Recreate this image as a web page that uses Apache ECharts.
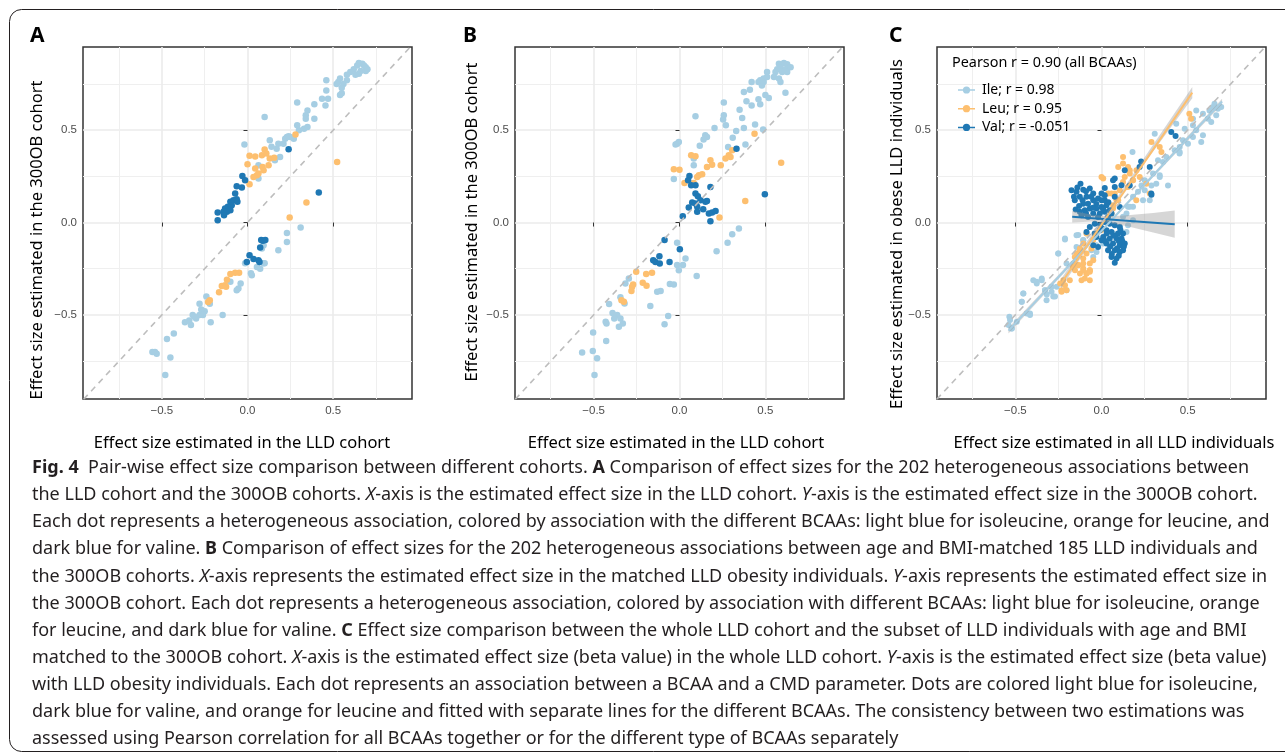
<!DOCTYPE html>
<html>
<head>
<meta charset="utf-8">
<title>Fig. 4 effect size comparison</title>
<script src="https://cdn.jsdelivr.net/npm/echarts@6.0.0/dist/echarts.min.js"></script>
<style>
  html, body { margin: 0; padding: 0; background: #fff; }
  #chart { width: 1285px; height: 753px; }
</style>
</head>
<body>
<div id="chart"></div>
<script>
// ---- axis ticks ----
const majorTicks = [-0.5, 0, 0.5];
const minorTicks = [-0.75, -0.25, 0.25, 0.75];
const identity = [[-1, -1], [1, 1]];

// ---- panel A: LLD cohort vs 300OB cohort ----
const aIle = [[0.67,0.86],[0.64,0.85],[0.69,0.84],[0.62,0.83],[0.66,0.82],[0.60,0.815],[0.69,0.82],[0.65,0.805],[0.63,0.80],[0.58,0.80],[0.68,0.85],[0.65,0.863],[0.70,0.83],[0.54,0.78],[0.53,0.76],[0.52,0.75],[0.56,0.75],[0.55,0.73],[0.58,0.77],[0.46,0.77],[0.54,0.69],[0.55,0.70],[0.46,0.715],[0.47,0.67],[0.435,0.67],[0.455,0.634],[0.39,0.64],[0.29,0.65],[0.35,0.607],[0.34,0.58],[0.34,0.562],[0.39,0.562],[0.29,0.526],[0.30,0.50],[0.33,0.508],[0.35,0.517],[0.10,0.571],[0.23,0.463],[0.22,0.454],[0.25,0.463],[0.27,0.454],[0.24,0.467],[0.21,0.427],[0.18,0.427],[0.13,0.445],[0.14,0.41],[0.17,0.40],[0.19,0.355],[0.16,0.337],[0.064,0.31],[0.064,0.238],[-0.018,0.423],
  [0.31,-0.027],[0.23,-0.056],[0.23,-0.105],[0.18,-0.15],[0.094,-0.123],[0.084,-0.14],[0.094,-0.22],[0.074,-0.25],[0.025,-0.285],[-0.04,-0.33],[-0.053,-0.357],[-0.063,-0.366],[-0.10,-0.32],[-0.24,-0.40],[-0.22,-0.44],[-0.28,-0.44],[-0.25,-0.48],[-0.28,-0.50],[-0.32,-0.50],[-0.30,-0.52],[-0.34,-0.53],[-0.33,-0.555],[-0.365,-0.54],[-0.215,-0.54],[-0.145,-0.50],[-0.43,-0.60],[-0.47,-0.63],[-0.45,-0.73],[-0.54,-0.70],[-0.53,-0.71],[-0.555,-0.70],[-0.48,-0.825],[-0.014,-0.22],[0.055,-0.24],[0.10,-0.22],[0.02,-0.275],[-0.27,-0.47],[-0.31,-0.51],[-0.26,-0.50]];
const aLeu = [[0.28,0.477],[0.10,0.395],[0.012,0.362],[0.045,0.358],[0.084,0.364],[0.11,0.373],[0.13,0.346],[0.156,0.351],[0,0.315],[0.045,0.292],[0.088,0.30],[0.094,0.283],[0.123,0.31],[0.055,0.256],[0.035,0.247],[0.064,0.265],[0.012,0.207],[0.523,0.328],[0.344,0.108],[0.246,0.027],
  [-0.049,-0.272],[-0.072,-0.272],[-0.10,-0.279],[-0.12,-0.31],[-0.131,-0.339],[-0.15,-0.344],[-0.125,-0.348],[-0.166,-0.377],[-0.22,-0.42],[-0.23,-0.43]];
const aVal = [[0.24,0.396],[-0.03,0.252],[-0.014,0.229],[-0.063,0.196],[-0.033,0.19],[-0.072,0.157],[-0.063,0.126],[-0.082,0.12],[-0.059,0.112],[-0.10,0.112],[-0.092,0.094],[-0.115,0.085],[-0.131,0.076],[-0.10,0.067],[-0.14,0.058],[-0.12,0.058],[-0.174,0.054],[-0.137,0.04],[-0.174,0.013],[0.416,0.162],
  [0.08,-0.095],[0.104,-0.095],[0.09,-0.099],[0.074,-0.135],[0.012,-0.177],[0.035,-0.198],[-0.004,-0.213],[0.064,-0.204],[0.07,-0.213]];

// ---- panel B: matched LLD vs 300OB ----
const bIle = [[0.579,0.86],[0.608,0.863],[0.627,0.856],[0.588,0.84],[0.617,0.83],[0.647,0.84],[0.569,0.83],[0.559,0.815],[0.598,0.815],[0.627,0.815],[0.55,0.787],[0.579,0.78],[0.588,0.76],[0.51,0.815],[0.49,0.78],[0.47,0.77],[0.46,0.76],[0.48,0.742],[0.49,0.76],[0.51,0.787],[0.42,0.76],[0.617,0.703],[0.50,0.69],[0.52,0.674],[0.375,0.706],[0.41,0.719],[0.39,0.656],[0.42,0.634],[0.46,0.667],[0.47,0.64],[0.258,0.649],[0.35,0.611],[0.258,0.58],[0.254,0.557],[0.365,0.566],[0.27,0.526],[0.44,0.53],[0.204,0.512],[0.31,0.459],[0.33,0.495],[0.375,0.512],[0.487,0.503],[0.384,0.423],[0.283,0.409],[0.15,0.472],[0.16,0.463],[0.14,0.449],[0.118,0.416],[-0.014,0.427],[-0.004,0.436],[-0.023,0.423],[0.083,0.31],[-0.033,0.236],[0.093,0.575],[0.083,0.346],
  [0.346,-0.032],[0.307,-0.063],[0.28,-0.11],[0.216,-0.155],[-0.014,-0.11],[0.035,-0.195],[-0.014,-0.23],[-0.004,-0.258],[0.02,-0.23],[0.10,-0.29],[-0.056,-0.333],[-0.033,-0.335],[-0.11,-0.371],[-0.13,-0.375],[-0.17,-0.452],[-0.295,-0.303],[-0.315,-0.33],[-0.344,-0.405],[-0.32,-0.438],[-0.41,-0.441],[-0.39,-0.49],[-0.43,-0.537],[-0.363,-0.50],[-0.344,-0.519],[-0.38,-0.519],[-0.425,-0.546],[-0.33,-0.546],[-0.353,-0.564],[-0.066,-0.506],[-0.087,-0.55],[-0.503,-0.595],[-0.427,-0.641],[-0.567,-0.703],[-0.505,-0.695],[-0.48,-0.735],[-0.495,-0.825]];
const bLeu = [[0.437,0.481],[0.307,0.391],[0.287,0.364],[0.268,0.346],[0.297,0.355],[0.068,0.364],[0.093,0.359],[0.18,0.337],[0.19,0.313],[0.16,0.30],[0.24,0.31],[-0.033,0.288],[0,0.286],[0.113,0.256],[0.132,0.261],[0.103,0.247],[0.029,0.214],[0.083,0.214],[0.592,0.323],[0.383,0.117],[0.233,0.027],
  [-0.252,-0.267],[-0.27,-0.335],[-0.276,-0.348],[-0.28,-0.371],[-0.194,-0.279],[-0.16,-0.272],[-0.214,-0.326],[-0.192,-0.342],[-0.338,-0.42],[-0.324,-0.429]];
const bVal = [[0.332,0.40],[0.058,0.252],[0.05,0.229],[0.093,0.202],[0.068,0.202],[0.18,0.193],[0.093,0.157],[0.107,0.142],[0.122,0.12],[0.074,0.108],[0.093,0.103],[0.054,0.081],[0.103,0.085],[0.151,0.112],[0.16,0.117],[0.138,0.072],[0.103,0.058],[0.171,0.049],[0.19,0.054],[0.21,0.063],[0.18,0.007],[0.019,0.034],[0.497,0.153],
  [-0.087,-0.095],[0.002,-0.144],[-0.117,-0.182],[-0.153,-0.204],[-0.14,-0.213],[-0.115,-0.222],[-0.058,-0.213]];

// ---- panel C: all LLD vs obese LLD ----
const cIle = [[-0.535,-0.51],[-0.54,-0.555],[-0.521,-0.573],[-0.492,-0.537],[-0.454,-0.384],[-0.463,-0.429],[-0.434,-0.492],[-0.415,-0.50],[-0.396,-0.312],[-0.376,-0.33],[-0.347,-0.303],[-0.328,-0.366],[-0.319,-0.42],[-0.28,-0.40],[-0.29,-0.348],[-0.251,-0.168],[-0.232,-0.33],[-0.212,-0.092],[-0.203,-0.366],[-0.164,-0.222],[-0.135,-0.068],[-0.106,-0.095],[-0.048,-0.186],[-0.029,-0.159],[-0.145,-0.132],
  [-0.145,-0.069],[-0.251,-0.168],[-0.203,-0.222],[-0.376,-0.321],[-0.347,-0.312],[-0.328,-0.366],[-0.29,-0.375],[-0.26,-0.348],[-0.454,-0.384],[-0.463,-0.429],[-0.415,-0.492],[-0.531,-0.528],[-0.521,-0.573],[-0.27,-0.40],[-0.318,-0.39],[-0.212,-0.087],[-0.106,-0.096],
  [0.125,0.031],[0.145,0.049],[0.164,0.085],[0.18,0.382],[0.183,0.139],[0.212,0.166],[0.232,0.20],[0.251,0.229],[0.299,0.265],[0.338,0.256],[0.309,0.481],[0.328,0.337],[0.376,0.355],[0.425,0.391],[0.454,0.409],[0.473,0.445],[0.502,0.427],[0.434,0.535],[0.531,0.463],[0.579,0.436],[0.589,0.472],[0.55,0.499],[0.531,0.526],[0.55,0.607],[0.589,0.589],[0.627,0.607],[0.647,0.625],[0.676,0.616],[0.695,0.625],[0.666,0.58],[0.637,0.544],[0.656,0.643],[0.618,0.562],[0.531,0.562],[0.483,0.508],[0.454,0.382],[0.357,0.328],[0.386,0.20],[0.28,0.12],[0.29,0.20],[0.251,0.175],[0.183,0.085],[0.154,0.085],[0.106,-0.023],[0.068,-0.06],[0.039,-0.095],[-0.029,-0.123],[0.01,-0.114],[-0.058,-0.15],[-0.087,-0.06],[0.183,0.013],[0.241,0.12],[0.154,-0.015],[0.145,-0.051],[0.318,0.21],[0.338,0.247],[0.453,0.373]];
const cLeu = [[-0.24,-0.33],[-0.222,-0.312],[-0.232,-0.375],[-0.203,-0.366],[-0.164,-0.24],[-0.154,-0.258],[-0.135,-0.23],[-0.125,-0.276],[-0.106,-0.249],[-0.087,-0.276],[-0.068,-0.258],[-0.116,-0.312],[-0.097,-0.303],[-0.068,-0.312],[-0.145,-0.168],[-0.125,-0.14],[-0.087,-0.168],[-0.106,-0.195],[-0.048,-0.095],[-0.029,-0.06],[0,-0.04],[0.029,0.013],[0.058,0.049],[0.068,0.094],[0.097,0.12],[0.039,0.157],[0.01,0.238],[0.106,0.175],[0.125,0.22],[0.135,0.247],[0.164,0.265],[0.183,0.229],[0.203,0.283],[0.154,0.30],[0.097,0.30],[0.222,0.247],[0.26,0.21],[0.28,0.157],[0.29,0.436],[0.338,0.409],[0.348,0.382],[0.51,0.589],[0.52,0.562],[0.125,0.355],[0.077,0.157],
  [0.125,0.319],[0.164,0.283],[0.183,0.229],[0.154,0.193],[0.202,0.12],[0.087,0.12],[0,0.247],[0.058,0.157],[0.067,0.076],
  [-0.126,-0.15],[-0.145,-0.186],[-0.106,-0.222],[-0.068,-0.258],[-0.164,-0.24],[-0.087,-0.276],[-0.048,-0.204],
  [-0.155,-0.186],[-0.135,-0.231],[-0.106,-0.258],[-0.068,-0.267],[-0.184,-0.312],[-0.212,-0.339],[-0.232,-0.366],[-0.068,-0.222],[-0.087,-0.06],[-0.106,-0.114],[-0.058,-0.14]];
const cVal = [[-0.122,0.21],[-0.174,0.175],[-0.145,0.166],[-0.106,0.178],[-0.068,0.184],[-0.048,0.157],[-0.087,0.139],[-0.126,0.139],[-0.155,0.12],[-0.106,0.102],[-0.078,0.102],[-0.048,0.12],[-0.02,0.13],[0,0.12],[0.019,0.12],[0.029,0.093],[0,0.084],[-0.029,0.076],[-0.068,0.076],[-0.097,0.067],[-0.126,0.058],[-0.048,0.049],[-0.01,0.049],[0.019,0.058],[0.048,0.067],[0.058,0.049],[0.038,0.03],[-0.02,0.03],[-0.078,0.03],[-0.116,0.04],[0.077,0.193],[0.116,0.202],[0.077,0.139],[0.106,0.084],[0.019,0.148],[0,0.157],
  [-0.16,0.14],[-0.14,0.19],[-0.09,0.17],[-0.06,0.14],[-0.03,0.10],[-0.13,0.09],[-0.09,0.05],[-0.05,0.08],[0.04,0.11],[-0.15,0.07],[-0.11,0.12],[0.01,0.07],
  [-0.068,-0.024],[-0.087,-0.051],[-0.039,-0.006],[-0.01,-0.015],[0.019,0.003],[0.048,-0.006],[0.077,-0.015],[0.106,-0.024],[-0.01,-0.042],[0.029,-0.042],[0.058,-0.051],[0.096,-0.06],[0.125,-0.06],[-0.029,-0.078],[0.01,-0.078],[0.048,-0.087],[0.087,-0.087],[0.116,-0.087],[0.029,-0.114],[0.067,-0.114],[0.106,-0.123],[0.135,-0.114],[0.038,-0.15],[0.077,-0.15],[0.106,-0.159],[0.058,-0.186],[0.087,-0.195],[0.077,-0.218],[-0.048,-0.123],[-0.02,-0.132],[0,-0.096],[0.125,-0.15],
  [0.0,-0.03],[0.03,-0.06],[0.07,-0.07],[0.1,-0.1],[0.05,-0.13],[0.09,-0.14],[0.12,-0.1],[0.13,-0.13],[0.06,-0.17],[0.1,-0.18],[-0.04,-0.06],[0.02,-0.1],[0.11,-0.04],
  [0.135,0.283],[0.221,0.301],[0.289,0.157],[0.077,0.238],[0.405,0.49],[0.43,0.468],[0.23,0.33],[0.28,0.30],[0.067,0.229],[0.019,0.187],[0.164,0.20],[0.29,0.15]];

// fitted lines and their confidence bands in panel C: [x, y] and [x, lower, upper]
const fitIle = [[-0.54, -0.585], [0.70, 0.655]];
const fitLeu = [[-0.235, -0.33], [0.527, 0.703]];
const fitVal = [[-0.17, 0.031], [0.425, -0.009]];
const bandIle = [[-0.54, -0.60, -0.57], [0.08, 0.028, 0.042], [0.70, 0.64, 0.67]];
const bandLeu = [[-0.235, -0.355, -0.305], [0.15, 0.195, 0.215], [0.527, 0.673, 0.733]];
const bandVal = [[-0.17, 0.0, 0.064], [-0.05, 0.005, 0.041], [0.05, -0.002, 0.034], [0.15, -0.02, 0.04], [0.3, -0.054, 0.052], [0.425, -0.083, 0.065]];

const legendNames = ['Ile; r = 0.98', 'Leu; r = 0.95', 'Val; r = -0.051'];
const colors = ['#A6CEE3', '#FDBF6F', '#1F78B4'];

// ---- layout ----
const FONT = 'Noto Sans';
const panels = [
  { left: 83, xMin: -0.96, xMax: 0.96 },
  { left: 515, xMin: -0.958, xMax: 0.958 },
  { left: 937, xMin: -0.955, xMax: 0.955 },
];
const gridTop = 47, gridW = 329, gridH = 352;

function fmt(v) {
  if (v === 0) return '0.0';
  return (v < 0 ? '\u2212' : '') + Math.abs(v).toFixed(1);
}

const grids = [], xAxes = [], yAxes = [];
panels.forEach((p, i) => {
  grids.push({
    left: p.left, top: gridTop, width: gridW, height: gridH,
    show: true, borderColor: '#333', borderWidth: 1.5, backgroundColor: '#fff',
    outerBoundsMode: 'none', containLabel: false,
  });
  const base = {
    type: 'value', gridIndex: i, axisLine: { show: false },
  };
  // major axis (labels, ticks, major grid)
  xAxes.push(Object.assign({}, base, {
    min: p.xMin, max: p.xMax, position: 'bottom',
    axisTick: { show: true, length: 4, lineStyle: { color: '#333', width: 1 }, customValues: majorTicks },
    axisLabel: { customValues: majorTicks, formatter: fmt, margin: 6, color: '#4D4D4D', fontSize: 11.5, fontFamily: 'Liberation Sans' },
    splitLine: { show: true, lineStyle: { color: '#EBEBEB', width: 1.6 } },
  }));
  yAxes.push(Object.assign({}, base, {
    min: -0.955, max: 0.95, position: 'left',
    axisTick: { show: true, length: 4, lineStyle: { color: '#333', width: 1 }, customValues: majorTicks },
    axisLabel: { customValues: majorTicks, formatter: fmt, margin: 6, color: '#4D4D4D', fontSize: 11.5, fontFamily: 'Liberation Sans' },
    splitLine: { show: true, lineStyle: { color: '#EBEBEB', width: 1.6 } },
  }));
});
// minor grid axes
panels.forEach((p, i) => {
  const minor = {
    type: 'value', gridIndex: i, axisLine: { show: false },
    axisTick: { show: false, customValues: minorTicks },
    axisLabel: { show: false },
    splitLine: { show: true, lineStyle: { color: '#EFEFEF', width: 1 } },
  };
  xAxes.push(Object.assign({}, minor, { min: p.xMin, max: p.xMax, position: 'top' }));
  yAxes.push(Object.assign({}, minor, { min: -0.955, max: 0.95, position: 'right' }));
});

function points(name, data, color, i, size) {
  return {
    name, type: 'scatter', data, xAxisIndex: i, yAxisIndex: i,
    symbolSize: size, itemStyle: { color, opacity: 1 }, z: 3, silent: true,
  };
}
function dashed(i) {
  return {
    type: 'line', data: identity, xAxisIndex: i, yAxisIndex: i, symbol: 'none', silent: true,
    lineStyle: { color: '#BDBDBD', width: 1.6, type: [6, 5] }, z: 6,
  };
}
function band(data, i) {
  return {
    type: 'custom', data, xAxisIndex: i, yAxisIndex: i, silent: true, z: 4,
    encode: { x: 0, y: 1 },
    renderItem: (params, api) => {
      if (params.dataIndex !== 0) return null;
      const upper = data.map(d => api.coord([d[0], d[2]]));
      const lower = data.map(d => api.coord([d[0], d[1]])).reverse();
      return { type: 'polygon', shape: { points: upper.concat(lower) }, style: { fill: 'rgba(153,153,153,0.4)' } };
    },
  };
}
function fit(data, color, i) {
  return {
    type: 'line', data, xAxisIndex: i, yAxisIndex: i, symbol: 'none', silent: true,
    lineStyle: { color, width: 2 }, z: 5,
  };
}

const series = [
  points('A Ile', aIle, colors[0], 0, 6.5),
  points('A Leu', aLeu, colors[1], 0, 6.5),
  points('A Val', aVal, colors[2], 0, 6.5),
  dashed(0),
  points('B Ile', bIle, colors[0], 1, 6.5),
  points('B Leu', bLeu, colors[1], 1, 6.5),
  points('B Val', bVal, colors[2], 1, 6.5),
  dashed(1),
  points(legendNames[0], cIle, colors[0], 2, 6),
  points(legendNames[1], cLeu, colors[1], 2, 6),
  points(legendNames[2], cVal, colors[2], 2, 6),
  band(bandIle, 2), fit(fitIle, colors[0], 2),
  band(bandLeu, 2), fit(fitLeu, colors[1], 2),
  band(bandVal, 2), fit(fitVal, colors[2], 2),
  dashed(2),
];

// legend icon: short line with a dot
const lineDot = 'path://M0,3.3 H16 V4.7 H0 Z M4.6,4 A3.4,3.4 0 1,1 11.4,4 A3.4,3.4 0 1,1 4.6,4 Z';

// ---- texts ----
const axisTitleStyle = { fontFamily: FONT, fontSize: 16.5, fill: '#000', align: 'center', verticalAlign: 'middle' };
const xTitles = [
  { x: 242, text: 'Effect size estimated in the LLD cohort' },
  { x: 676, text: 'Effect size estimated in the LLD cohort' },
  { x: 1114, text: 'Effect size estimated in all LLD individuals' },
];
const yTitles = [
  { x: 37, y: 240, text: 'Effect size estimated in the 300OB cohort' },
  { x: 472, y: 222, text: 'Effect size estimated in the 300OB cohort' },
  { x: 897, y: 234, text: 'Effect size estimated in obese LLD individuals' },
];
const letters = [{ x: 30, t: 'A' }, { x: 463, t: 'B' }, { x: 889, t: 'C' }];

const caption = [
  '{b|Fig. 4}  Pair-wise effect size comparison between different cohorts. {b|A} Comparison of effect sizes for the 202 heterogeneous associations between',
  'the LLD cohort and the 300OB cohorts. {i|X}-axis is the estimated effect size in the LLD cohort. {i|Y}-axis is the estimated effect size in the 300OB cohort.',
  'Each dot represents a heterogeneous association, colored by association with the different BCAAs: light blue for isoleucine, orange for leucine, and',
  'dark blue for valine. {b|B} Comparison of effect sizes for the 202 heterogeneous associations between age and BMI-matched 185 LLD individuals and',
  'the 300OB cohorts. {i|X}-axis represents the estimated effect size in the matched LLD obesity individuals. {i|Y}-axis represents the estimated effect size in',
  'the 300OB cohort. Each dot represents a heterogeneous association, colored by association with different BCAAs: light blue for isoleucine, orange',
  'for leucine, and dark blue for valine. {b|C} Effect size comparison between the whole LLD cohort and the subset of LLD individuals with age and BMI',
  'matched to the 300OB cohort. {i|X}-axis is the estimated effect size (beta value) in the whole LLD cohort. {i|Y}-axis is the estimated effect size (beta value)',
  'with LLD obesity individuals. Each dot represents an association between a BCAA and a CMD parameter. Dots are colored light blue for isoleucine,',
  'dark blue for valine, and orange for leucine and fitted with separate lines for the different BCAAs. The consistency between two estimations was',
  'assessed using Pearson correlation for all BCAAs together or for the different type of BCAAs separately',
];
const capSize = 18;
const capRich = {
  n: { fontFamily: FONT, fontSize: capSize, fill: '#231F20' },
  b: { fontFamily: FONT, fontSize: capSize, fontWeight: 'bold', fill: '#231F20' },
  i: { fontFamily: FONT, fontSize: capSize, fontStyle: 'italic', fill: '#231F20' },
};

const graphic = [
  { type: 'rect', shape: { x: 9.5, y: 9.5, width: 1300, height: 742, r: 12 }, style: { fill: 'none', stroke: '#231F20', lineWidth: 1 }, z: 100 },
];
letters.forEach(l => graphic.push({ type: 'text', x: l.x, y: 36, style: { text: l.t, fontFamily: FONT, fontSize: 21, fontWeight: 'bold', fill: '#000', verticalAlign: 'middle' } }));
xTitles.forEach(t => graphic.push({ type: 'text', x: t.x, y: 443, style: Object.assign({ text: t.text }, axisTitleStyle) }));
yTitles.forEach(t => graphic.push({ type: 'text', x: t.x, y: t.y, rotation: Math.PI / 2, style: Object.assign({ text: t.text }, axisTitleStyle) }));
caption.forEach((line, k) => graphic.push({
  type: 'text', x: 32, y: 468 + k * 27.1,
  style: { text: line, fontFamily: FONT, fontSize: capSize, fill: '#231F20', verticalAlign: 'middle', rich: capRich },
}));
graphic.push({ type: 'text', x: 952, y: 63, z: 50, style: { text: 'Pearson r = 0.90 (all BCAAs)', fontFamily: FONT, fontSize: 14.4, fill: '#000', verticalAlign: 'middle' } });

const chart = echarts.init(document.getElementById('chart'), null, { renderer: 'canvas' });
chart.setOption({
  animation: false,
  backgroundColor: '#fff',
  grid: grids,
  xAxis: xAxes,
  yAxis: yAxes,
  legend: {
    orient: 'vertical', left: 953, top: 77, itemWidth: 17, itemHeight: 9, itemGap: 2.7,
    selectedMode: false,
    data: legendNames.map(n => ({ name: n, icon: lineDot })),
    textStyle: { fontFamily: FONT, fontSize: 14, color: '#000', lineHeight: 16, padding: [0, 0, 0, 2] },
  },
  series,
  graphic,
});
</script>
</body>
</html>
